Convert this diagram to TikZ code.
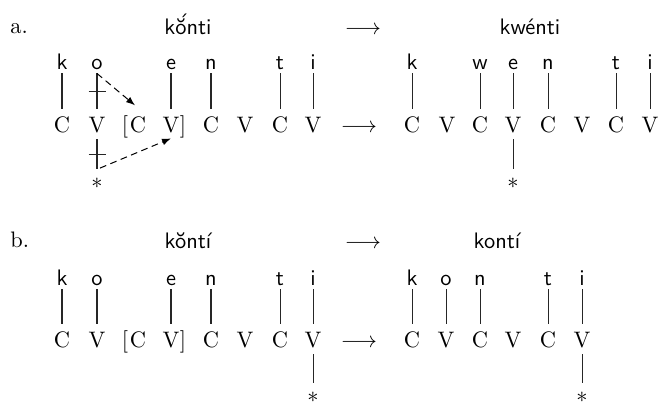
\documentclass[tikz,border=0pt]{standalone}
\usetikzlibrary{calc,arrows.meta}
\newcommand\obracute{\hbox{ŏ\llap{\raisebox{0.42ex}{´\kern-0.12em}}}}
\begin{document}
\begin{tikzpicture}[x=0.4464pt,y=-0.4464pt,
  seg/.style={anchor=base,font=\sffamily,inner xsep=0pt,inner ysep=1.8pt,text height=1.6ex,text depth=0pt},
  cv/.style={anchor=base,inner xsep=0pt,inner ysep=3.1pt,text height=6.83pt,text depth=0pt},
  brk/.style={anchor=base,inner sep=0pt},
  starn/.style={anchor=base,inner xsep=0pt,inner ysep=3.6pt,text height=4.65pt,text depth=0pt},
  word/.style={anchor=base,font=\sffamily,inner sep=0pt},
  lbl/.style={anchor=base west,inner sep=0pt},
  arr/.style={anchor=base,inner sep=0pt},
  assoc/.style={draw=black!85,line width=0.45pt},
  tick/.style={draw=black!85,line width=0.45pt},
  dasharr/.style={draw=black,line width=0.45pt,dashed,dash pattern=on 3pt off 2pt,-{Latex[length=4pt,width=3pt]}}]
\useasboundingbox (0,0) rectangle (660,403);

% ---------- a ----------
\node[lbl] (la) at (10,33) {a.};
\node[word] (wa1) at (188,34) {k\obracute nti};
\node[arr] (ta) at (363,34) {$\longrightarrow$};
\node[word] (wa2) at (530,34) {kwénti};

\node[seg] (ak) at (62,69) {k};
\node[seg] (ao) at (97,69) {o};
\node[seg] (ae) at (171,69) {e};
\node[seg] (an) at (211,69) {n};
\node[seg] (at) at (280,69) {t};
\node[seg] (ai) at (313,69) {i};

\node[cv] (a1) at (62,132) {C};
\node[cv] (a2) at (97,132) {V};
\node[brk] (abl) at (125,132) {[};
\node[cv] (a3) at (138,132) {C};
\node[cv] (a4) at (171,132) {V};
\node[brk] (abr) at (183,132) {]};
\node[cv] (a5) at (211,132) {C};
\node[cv] (a6) at (245,132) {V};
\node[cv] (a7) at (280,132) {C};
\node[cv] (a8) at (313,132) {V};
\node[starn] (as) at (97,188) {$*$};

\draw[assoc] (ak.south) -- (a1.north);
\draw[assoc] (ao.south) -- (a2.north);
\draw[assoc] (ae.south) -- (a4.north);
\draw[assoc] (an.south) -- (a5.north);
\draw[assoc] (at.south) -- (a7.north);
\draw[assoc] (ai.south) -- (a8.north);
\draw[assoc] (a2.south) -- (as.north);
\draw[tick] ($(ao.south)!0.5!(a2.north)+(-8.5,0)$) -- ++(17,0);
\draw[tick] ($(a2.south)!0.5!(as.north)+(-8.5,0)$) -- ++(17,0);
\draw[dasharr] (ao.south) -- ($(a3.north)+(-3,-4)$);
\draw[dasharr] ($(as.north)+(3,-1)$) -- ($(a4.south)+(0,-1)$);

\node[arr] (ca) at (359,132) {$\longrightarrow$};

\node[seg] (bk) at (412,69) {k};
\node[seg] (bw) at (480,69) {w};
\node[seg] (be) at (513,69) {e};
\node[seg] (bn) at (548,69) {n};
\node[seg] (bt) at (616,69) {t};
\node[seg] (bi) at (650,69) {i};

\node[cv] (b1) at (412,132) {C};
\node[cv] (b2) at (447,132) {V};
\node[cv] (b3) at (480,132) {C};
\node[cv] (b4) at (513,132) {V};
\node[cv] (b5) at (548,132) {C};
\node[cv] (b6) at (582,132) {V};
\node[cv] (b7) at (616,132) {C};
\node[cv] (b8) at (650,132) {V};
\node[starn] (bs) at (513,188) {$*$};

\draw[assoc] (bk.south) -- (b1.north);
\draw[assoc] (bw.south) -- (b3.north);
\draw[assoc] (be.south) -- (b4.north);
\draw[assoc] (bn.south) -- (b5.north);
\draw[assoc] (bt.south) -- (b7.north);
\draw[assoc] (bi.south) -- (b8.north);
\draw[assoc] (b4.south) -- (bs.north);

% ---------- b ----------
\node[lbl] (lb) at (10,247) {b.};
\node[word] (wb1) at (188,248) {kŏntí};
\node[arr] (tb) at (363,248) {$\longrightarrow$};
\node[word] (wb2) at (497,248) {kontí};

\node[seg] (ck) at (62,285) {k};
\node[seg] (co) at (97,285) {o};
\node[seg] (ce) at (171,285) {e};
\node[seg] (cn) at (211,285) {n};
\node[seg] (ct) at (280,285) {t};
\node[seg] (ci) at (313,285) {i};

\node[cv] (c1) at (62,347) {C};
\node[cv] (c2) at (97,347) {V};
\node[brk] (cbl) at (125,347) {[};
\node[cv] (c3) at (138,347) {C};
\node[cv] (c4) at (171,347) {V};
\node[brk] (cbr) at (183,347) {]};
\node[cv] (c5) at (211,347) {C};
\node[cv] (c6) at (245,347) {V};
\node[cv] (c7) at (280,347) {C};
\node[cv] (c8) at (313,347) {V};
\node[starn] (cs) at (313,402) {$*$};

\draw[assoc] (ck.south) -- (c1.north);
\draw[assoc] (co.south) -- (c2.north);
\draw[assoc] (ce.south) -- (c4.north);
\draw[assoc] (cn.south) -- (c5.north);
\draw[assoc] (ct.south) -- (c7.north);
\draw[assoc] (ci.south) -- (c8.north);
\draw[assoc] (c8.south) -- (cs.north);

\node[arr] (cb) at (359,347) {$\longrightarrow$};

\node[seg] (dk) at (412,285) {k};
\node[seg] (do) at (446,285) {o};
\node[seg] (dn) at (480,285) {n};
\node[seg] (dt) at (548,285) {t};
\node[seg] (di) at (582,285) {i};

\node[cv] (d1) at (412,347) {C};
\node[cv] (d2) at (446,347) {V};
\node[cv] (d3) at (480,347) {C};
\node[cv] (d4) at (513,347) {V};
\node[cv] (d5) at (548,347) {C};
\node[cv] (d6) at (582,347) {V};
\node[starn] (ds) at (582,402) {$*$};

\draw[assoc] (dk.south) -- (d1.north);
\draw[assoc] (do.south) -- (d2.north);
\draw[assoc] (dn.south) -- (d3.north);
\draw[assoc] (dt.south) -- (d5.north);
\draw[assoc] (di.south) -- (d6.north);
\draw[assoc] (d6.south) -- (ds.north);
\end{tikzpicture}
\end{document}
